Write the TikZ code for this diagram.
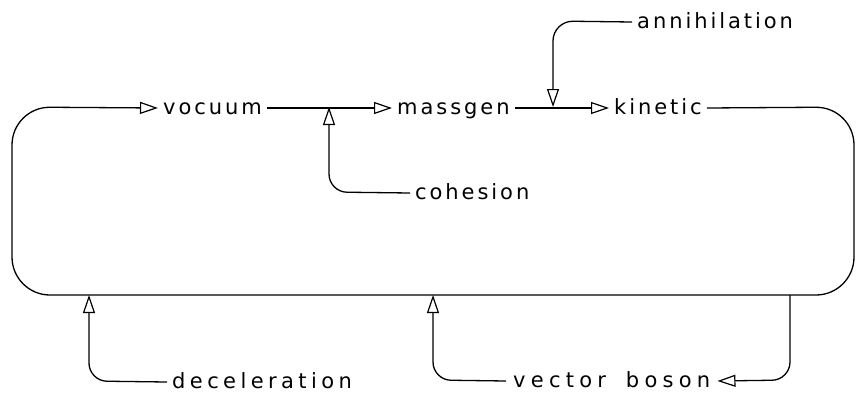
\documentclass[tikz,border=0pt]{standalone}
\usepackage{fontspec}
\setmainfont[LetterSpace=14]{DejaVu Sans}
\usetikzlibrary{arrows.meta}
\tikzset{
  lbl/.style={font=\fontsize{21}{21}\selectfont, inner xsep=5pt, inner ysep=0pt,
    text height=12pt, text depth=0pt, anchor=base west},
  flow/.style={line width=1.3pt, black},
  tri/.style={-{Triangle[open,length=18pt,width=12pt,line width=1.2pt]}},
}
\begin{document}
\begin{tikzpicture}[x=1pt,y=-1pt]
\useasboundingbox (0,0) rectangle (856,394);
% labels
\node[lbl] (vocuum) at (158,114) {vocuum};
\node[lbl] (massgen) at (392,114) {massgen};
\node[lbl] (kinetic) at (609,114) {kinetic};
\node[lbl] (annihilation) at (632,28) {annihilation};
\node[lbl] (cohesion) at (410,199) {cohesion};
\node[lbl] (deceleration) at (167,388) {\addfontfeature{LetterSpace=21}deceleration};
\node[lbl,inner xsep=7pt] (vectorboson) at (506,387) {\addfontfeature{LetterSpace=25}vector\hspace{8pt} boson};
% junctions
\coordinate (coh) at (329,107);
\coordinate (ann) at (553,107);
\coordinate (dec) at (89,295);
\coordinate (vb) at (433,295);
\coordinate (src) at (790,295);
% main chain
\draw[flow,tri] (vocuum.east) -- (massgen.west);
\draw[flow,tri] (massgen.east) -- (kinetic.west);
% loop
\draw[flow,tri,rounded corners=38pt] (kinetic.east) -- (854,107) -- (854,295) -- (12,295) -- (12,107) -- (vocuum.west);
% inflows
\draw[flow,tri,rounded corners=18pt] (cohesion.west) -- (329,192) -- (coh);
\draw[flow,tri,rounded corners=20pt] (annihilation.west) -- (553,21) -- (ann);
\draw[flow,tri,rounded corners=18pt] (deceleration.west) -- (89,381) -- (dec);
\draw[flow,tri,rounded corners=18pt] (vectorboson.west) -- (433,380) -- (vb);
\draw[flow,tri,rounded corners=18pt] (src) -- (790,380) -- (vectorboson.east);
\end{tikzpicture}
\end{document}
